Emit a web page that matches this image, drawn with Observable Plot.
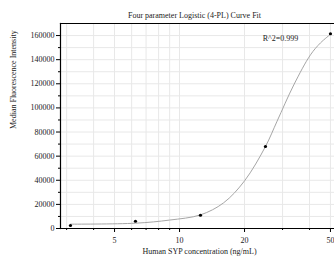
<!DOCTYPE html>
<html>
<head>
<meta charset="utf-8">
<script src="https://cdn.jsdelivr.net/npm/d3@7"></script>
<script src="https://cdn.jsdelivr.net/npm/@observablehq/plot@0.6"></script>
<style>
  html, body { margin: 0; padding: 0; background: #fff; }
</style>
</head>
<body>
<div id="chart"></div>
<script>
// Measured standards
const concentration = [3.125, 6.25, 12.5, 25, 50];
const mfi = [2500, 6000, 11000, 68000, 161500];

// Fitted curve
const fitConc = [3.125, 6.25, 9.0, 12.5, 16.0, 20.0, 25, 28.3, 33.8, 40.4, 45, 50];
const fitMFI = [3600, 4400, 7000, 11300, 21300, 39500, 68000, 89000, 119000, 144000, 154000, 161000];

// Ticks
const xMajor = [5, 10, 20, 50];
const xMinor = [3, 4, 6, 7, 8, 9, 30, 40];
const xGrid = [3, 4, 5, 6, 7, 8, 9, 10, 20, 30, 40, 50];
const yMajor = [0, 20000, 40000, 60000, 80000, 100000, 120000, 140000, 160000];
const yMinor = [10000, 30000, 50000, 70000, 90000, 110000, 130000, 150000];
const yGrid = [10000, 20000, 30000, 40000, 50000, 60000, 70000, 80000, 90000, 100000, 110000, 120000, 130000, 140000, 150000, 160000];

const title = "Four parameter Logistic (4-PL) Curve Fit";
const xLabel = "Human SYP concentration (ng/mL)";
const yLabel = "Median Fluorescence Intensity";
const r2Label = "R^2=0.999";

const points = concentration.map((c, i) => ({c, v: mfi[i]}));
const fit = fitConc.map((c, i) => ({c, v: fitMFI[i]}));

const font = "'Liberation Serif', 'Times New Roman', serif";

const chart = Plot.plot({
  width: 334,
  height: 264,
  marginLeft: 60,
  marginRight: 0,
  marginTop: 23,
  marginBottom: 36,
  style: {fontFamily: font, fontSize: "8px", color: "#222", background: "#fff"},
  x: {type: "log", domain: [2.81, 52.2]},
  y: {domain: [0, 170000]},
  marks: [
    Plot.gridX(xGrid, {stroke: "#e8e8e8", strokeOpacity: 1}),
    Plot.gridY(yGrid, {stroke: "#e8e8e8", strokeOpacity: 1}),
    Plot.line(fit, {x: "c", y: "v", curve: "catmull-rom", stroke: "#a6a6a6", strokeWidth: 1}),
    Plot.dot(points, {x: "c", y: "v", r: 1.6, fill: "#000", stroke: "none"}),
    Plot.axisY(yMajor, {tickSize: 4, tickPadding: 2, tickFormat: d3.format("d"), label: null, stroke: "#000", fill: "#222"}),
    Plot.axisY(yMinor, {tickSize: 2, tickFormat: () => "", label: null, stroke: "#000"}),
    Plot.axisX(xMajor, {tickSize: 4, tickFormat: () => "", label: null, stroke: "#000"}),
    Plot.axisX(xMinor, {tickSize: 2, tickFormat: () => "", label: null, stroke: "#000"}),
    Plot.text(xMajor, {x: d => d, text: d => String(d), frameAnchor: "bottom", dy: 14, fontSize: 8, fill: "#222"}),
    Plot.frame({anchor: "left", stroke: "#000", strokeWidth: 1.2}),
    Plot.frame({anchor: "top", stroke: "#000", strokeWidth: 1.2}),
    Plot.frame({anchor: "bottom", stroke: "#000", strokeWidth: 1.2}),
    Plot.text([title], {frameAnchor: "top", dx: -3, dy: -11, fontSize: 8, fill: "#222"}),
    Plot.text([xLabel], {frameAnchor: "bottom", dx: 2, dy: 25, fontSize: 8, fill: "#222"}),
    Plot.text([yLabel], {frameAnchor: "left", dx: -47, dy: 3, rotate: -90, fontSize: 8, fill: "#222"}),
    Plot.text([r2Label], {frameAnchor: "top-right", dx: -54, dy: 12, textAnchor: "middle", fontSize: 8, fill: "#222"})
  ]
});

document.getElementById("chart").appendChild(chart);
</script>
</body>
</html>
